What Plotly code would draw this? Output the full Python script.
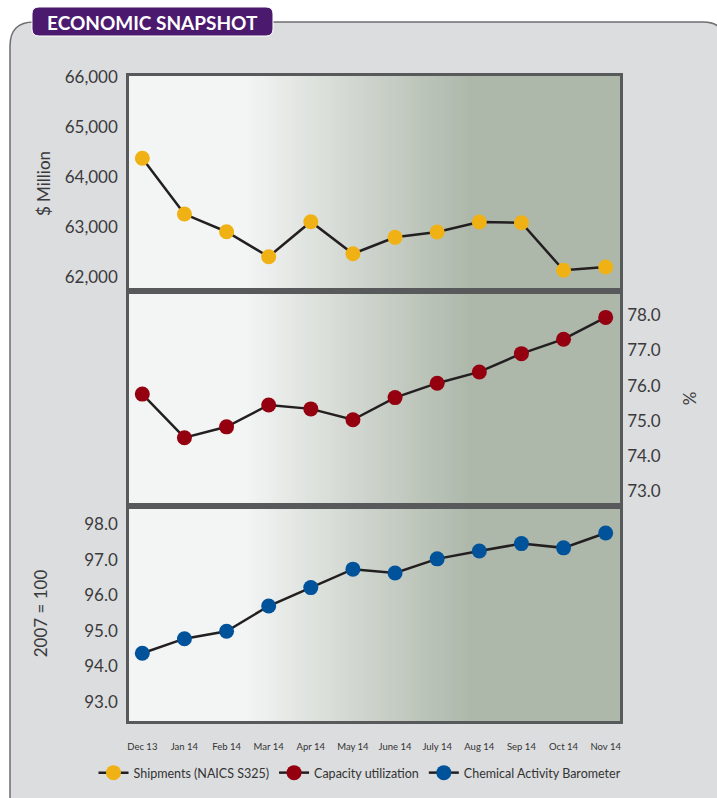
import plotly.graph_objects as go

# ---------------- data ----------------
months = ["Dec 13", "Jan 14", "Feb 14", "Mar 14", "Apr 14", "May 14", "June 14",
          "July 14", "Aug 14", "Sep 14", "Oct 14", "Nov 14"]
shipments = [64373, 63261, 62908, 62409, 63108, 62469, 62796, 62902, 63102, 63088, 62138, 62204]
capacity = [75.76, 74.52, 74.83, 75.45, 75.34, 75.03, 75.66, 76.07, 76.39, 76.91, 77.32, 77.94]
cab = [94.37, 94.78, 94.99, 95.70, 96.22, 96.74, 96.63, 97.03, 97.25, 97.46, 97.34, 97.76]

ship_ticks = [62000, 63000, 64000, 65000, 66000]
cap_ticks = [73, 74, 75, 76, 77, 78]
cab_ticks = [93, 94, 95, 96, 97, 98]

series_names = ["Shipments (NAICS S325)", "Capacity utilization", "Chemical Activity Barometer"]
series_colors = ["#f0b114", "#94000f", "#00529b"]

W, H = 717, 798
FONT = "Lato"
TXT = "#3a3a3c"


def px(p):
    return p / W


def py(p):
    return 1 - p / H


L, R, T, B = 129, 620, 76, 721
B1, B2 = 291, 506
idx = list(range(len(months)))

fig = go.Figure()
for i, (vals, name, col) in enumerate(zip([shipments, capacity, cab], series_names, series_colors)):
    sfx = "" if i == 0 else str(i + 1)
    fig.add_trace(go.Scatter(
        x=idx, y=vals, name=name, mode="lines+markers",
        xaxis="x" + sfx, yaxis="y" + sfx,
        line=dict(color="#231f20", width=2.5),
        marker=dict(color=col, size=15, line=dict(width=0)),
    ))

# ---------------- shapes: outer panel, badge, gradient ----------------
shapes = []


def pt(x, y):
    return f"{px(x):.5f},{py(y):.5f}"


outer = (f"M {pt(10, 810)} L {pt(10, 46)} Q {pt(10, 22)} {pt(34, 22)} "
         f"L {pt(703, 22)} Q {pt(725, 22)} {pt(725, 44)} L {pt(725, 810)} Z")
shapes.append(dict(type="path", xref="paper", yref="paper", path=outer,
                   fillcolor="#dcdddf", line=dict(color="#6d6e71", width=1.5), layer="below"))

# gradient background of plot area
c0 = (243, 245, 244)
c1 = (173, 183, 170)
g0, g1 = 245, 472
shapes.append(dict(type="rect", xref="paper", yref="paper", x0=px(L), x1=px(g0 + 1), y0=py(B), y1=py(T),
                   fillcolor="rgb(%d,%d,%d)" % c0, line=dict(width=0), layer="below"))
n = 76
step = (g1 - g0) / n
for k in range(n):
    t = (k + 0.5) / n
    c = tuple(round(c0[j] + (c1[j] - c0[j]) * t) for j in range(3))
    x0 = g0 + k * step
    shapes.append(dict(type="rect", xref="paper", yref="paper", x0=px(x0), x1=px(x0 + step + 0.8),
                       y0=py(B), y1=py(T), fillcolor="rgb(%d,%d,%d)" % c, line=dict(width=0), layer="below"))
shapes.append(dict(type="rect", xref="paper", yref="paper", x0=px(g1), x1=px(R), y0=py(B), y1=py(T),
                   fillcolor="rgb(%d,%d,%d)" % c1, line=dict(width=0), layer="below"))

# title badge
bx0, bx1, by0, by1, r = 32, 273, 7, 36, 7
badge = (f"M {pt(bx0 + r, by0)} L {pt(bx1 - r, by0)} Q {pt(bx1, by0)} {pt(bx1, by0 + r)} "
         f"L {pt(bx1, by1 - r)} Q {pt(bx1, by1)} {pt(bx1 - r, by1)} L {pt(bx0 + r, by1)} "
         f"Q {pt(bx0, by1)} {pt(bx0, by1 - r)} L {pt(bx0, by0 + r)} Q {pt(bx0, by0)} {pt(bx0 + r, by0)} Z")
shapes.append(dict(type="path", xref="paper", yref="paper", path=badge,
                   fillcolor="#4b1a6e", line=dict(color="#ffffff", width=1)))

# ---------------- axes ----------------
axline = dict(showline=True, mirror=True, linecolor="#58595b", linewidth=2.5,
              showgrid=False, zeroline=False, ticks="", automargin=False)
xrange = [-0.316, 11.34]
xdom = [px(L), px(R)]

layout = dict(
    width=W, height=H,
    margin=dict(l=0, r=0, t=0, b=0, autoexpand=False),
    paper_bgcolor="#ffffff", plot_bgcolor="rgba(0,0,0,0)",
    font=dict(family=FONT, color=TXT),
    showlegend=True,
    legend=dict(orientation="h", x=px(360), xanchor="center", y=py(773), yanchor="middle",
                font=dict(size=12.5, color="#333333"), bgcolor="rgba(0,0,0,0)",
                itemwidth=30, tracegroupgap=0),
    shapes=shapes,
    annotations=[dict(text="<b>ECONOMIC SNAPSHOT</b>", xref="paper", yref="paper",
                      x=px((bx0 + bx1) / 2), y=py(22), xanchor="center", yanchor="middle",
                      showarrow=False, font=dict(family=FONT, size=19, color="#ffffff"))],
)

layout["xaxis"] = dict(domain=xdom, range=xrange, anchor="y", showticklabels=False, **axline)
layout["xaxis2"] = dict(domain=xdom, range=xrange, anchor="y2", showticklabels=False, **axline)
layout["xaxis3"] = dict(domain=xdom, range=xrange, anchor="y3", tickmode="array",
                        tickvals=idx, ticktext=months, tickfont=dict(size=9.5, color="#333333"),
                        ticklabelstandoff=15, **axline)

layout["yaxis"] = dict(domain=[py(B1), py(T)], range=[61725, 66016], anchor="x",
                       tickmode="array", tickvals=ship_ticks, tickformat=",d",
                       tickfont=dict(size=17, color=TXT), ticklabelstandoff=5,
                       title=dict(text="$ Million", font=dict(size=17, color=TXT), standoff=10),
                       **axline)
layout["yaxis2"] = dict(domain=[py(B2), py(B1)], range=[72.58, 78.69], anchor="x2", side="right",
                        tickmode="array", tickvals=cap_ticks, tickformat=".1f",
                        tickfont=dict(size=17, color=TXT), ticklabelstandoff=1,
                        title=dict(text="%", font=dict(size=17, color=TXT), standoff=25),
                        **axline)
layout["yaxis3"] = dict(domain=[py(B), py(B2)], range=[92.46, 98.52], anchor="x3",
                        tickmode="array", tickvals=cab_ticks, tickformat=".1f",
                        tickfont=dict(size=17, color=TXT), ticklabelstandoff=5,
                        title=dict(text="2007 = 100", font=dict(size=17, color=TXT), standoff=33),
                        **axline)

fig.update_layout(**layout)
fig.write_html("out.html")
